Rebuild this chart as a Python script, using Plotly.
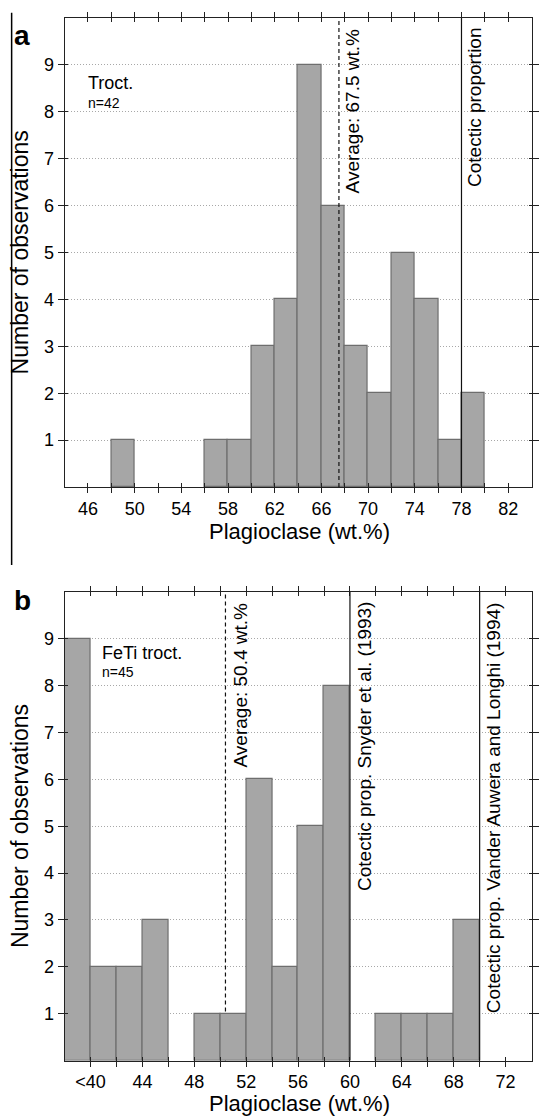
import plotly.graph_objects as go

# ---------------- data ----------------
# Panel a : Troctolites
bin_start_a = [48, 56, 58, 60, 62, 64, 66, 68, 70, 72, 74, 76, 78]
counts_a = [1, 1, 1, 3, 4, 9, 6, 3, 2, 5, 4, 1, 2]
avg_a = 67.5
cotectic_a = 78
xticks_a = list(range(46, 83, 2))
xlabels_a = [str(v) if (v - 46) % 4 == 0 else "" for v in xticks_a]

# Panel b : FeTi troctolites
bin_start_b = [38, 40, 42, 44, 48, 50, 52, 54, 56, 58, 62, 64, 66, 68]
counts_b = [9, 2, 2, 3, 1, 1, 6, 2, 5, 8, 1, 1, 1, 3]
avg_b = 50.4
cotectic_snyder = 60
cotectic_vander = 70
xticks_b = list(range(40, 73, 2))
xlabels_b = [("<40" if v == 40 else str(v)) if (v - 40) % 4 == 0 else "" for v in xticks_b]

bin_width = 2
yticks = list(range(1, 10))

# ---------------- style ----------------
W, H = 539, 1117
FONT = "Liberation Sans, Arial, Helvetica, sans-serif"
BAR = "#a6a6a6"
EDGE = "#6e6e6e"
AX = "#222222"
GRID = "#a8a8a8"

def px_x(p):
    return p / W

def px_y(p):
    return 1 - p / H

XDOM = [px_x(65), px_x(534.5)]
YDOM_A = [px_y(487), px_y(18)]
YDOM_B = [px_y(1060.5), px_y(592)]

fig = go.Figure()

fig.add_trace(go.Bar(
    x=[s + bin_width / 2 for s in bin_start_a], y=counts_a, width=bin_width,
    marker=dict(color=BAR, line=dict(color=EDGE, width=1.2)),
    xaxis="x", yaxis="y", showlegend=False, hoverinfo="skip"))
fig.add_trace(go.Bar(
    x=[s + bin_width / 2 for s in bin_start_b], y=counts_b, width=bin_width,
    marker=dict(color=BAR, line=dict(color=EDGE, width=1.2)),
    xaxis="x2", yaxis="y2", showlegend=False, hoverinfo="skip"))
# empty traces so the overlay axes (inner halves of crossing ticks) get drawn
fig.add_trace(go.Scatter(x=[], y=[], xaxis="x3", yaxis="y3", showlegend=False))
fig.add_trace(go.Scatter(x=[], y=[], xaxis="x4", yaxis="y4", showlegend=False))

def xaxis_main(rng, tv, tt, anchor):
    return dict(domain=XDOM, range=rng, anchor=anchor, tickmode="array",
                tickvals=tv, ticktext=tt, ticks="outside", ticklen=5,
                tickwidth=1, tickcolor=AX, showline=True, linecolor=AX,
                linewidth=1, mirror="ticks", showgrid=False, zeroline=False,
                tickfont=dict(family=FONT, size=18, color="black"), fixedrange=True)

def xaxis_over(rng, tv, over, anchor):
    return dict(overlaying=over, anchor=anchor, range=rng, tickmode="array",
                tickvals=tv, ticks="inside", ticklen=4, tickwidth=1, tickcolor=AX,
                showline=True, linecolor=AX, linewidth=1, mirror="ticks",
                showticklabels=False, showgrid=False, zeroline=False, fixedrange=True)

def yaxis_main(dom, anchor):
    return dict(domain=dom, range=[0, 10], anchor=anchor, tickmode="array",
                tickvals=yticks, ticks="outside", ticklen=6, tickwidth=1,
                tickcolor=AX, showline=True, linecolor=AX, linewidth=1,
                mirror="ticks", showgrid=True, gridcolor=GRID, griddash="1px,2px",
                gridwidth=1, zeroline=False,
                tickfont=dict(family=FONT, size=18, color="black"), fixedrange=True)

def yaxis_over(over, anchor):
    return dict(overlaying=over, anchor=anchor, range=[0, 10], tickmode="array",
                tickvals=yticks, ticks="inside", ticklen=3, tickwidth=1,
                tickcolor=AX, showline=True, linecolor=AX, linewidth=1,
                mirror="ticks", showticklabels=False, showgrid=False,
                zeroline=False, fixedrange=True)

fig.update_layout(
    width=W, height=H, autosize=False,
    margin=dict(l=0, r=0, t=0, b=0),
    paper_bgcolor="white", plot_bgcolor="white",
    font=dict(family=FONT, color="black"),
    bargap=0,
    xaxis=xaxis_main([44, 84], xticks_a, xlabels_a, "y"),
    yaxis=yaxis_main(YDOM_A, "x"),
    xaxis2=xaxis_main([38, 74], xticks_b, xlabels_b, "y2"),
    yaxis2=yaxis_main(YDOM_B, "x2"),
    xaxis3=xaxis_over([44, 84], xticks_a, "x", "y"),
    yaxis3=yaxis_over("y", "x"),
    xaxis4=xaxis_over([38, 74], xticks_b, "x2", "y2"),
    yaxis4=yaxis_over("y2", "x2"),
)

DASH = dict(color="#111111", width=1.2, dash="4px,3px")
SOLID = dict(color="#111111", width=1.2)
shapes = [
    dict(type="line", xref="x", yref="y domain", x0=avg_a, x1=avg_a, y0=0, y1=1,
         line=DASH, layer="above"),
    dict(type="line", xref="x", yref="y domain", x0=cotectic_a, x1=cotectic_a, y0=0, y1=1,
         line=SOLID, layer="above"),
    dict(type="line", xref="x2", yref="y2 domain", x0=avg_b, x1=avg_b, y0=0, y1=1,
         line=DASH, layer="below"),
    dict(type="line", xref="x2", yref="y2 domain", x0=cotectic_snyder, x1=cotectic_snyder,
         y0=0, y1=1, line=SOLID, layer="above"),
    dict(type="line", xref="x2", yref="y2 domain", x0=cotectic_vander, x1=cotectic_vander,
         y0=0, y1=1, line=SOLID, layer="above"),
    # thin page border line at the left of the upper panel
    dict(type="line", xref="paper", yref="paper", x0=px_x(11.7), x1=px_x(11.7),
         y0=px_y(12.7), y1=px_y(565), line=dict(color="black", width=1.5)),
]
fig.update_layout(shapes=shapes)

ann = []
def txt(text, x, y, size, xref="paper", xanchor="left", yanchor="middle",
        angle=0, bold=False, xshift=0):
    ann.append(dict(text=("<b>%s</b>" % text) if bold else text, x=x, y=y,
                    xref=xref, yref="paper", xanchor=xanchor, yanchor=yanchor,
                    textangle=angle, showarrow=False, xshift=xshift,
                    font=dict(family=FONT, size=size, color="black")))

# panel letters
txt("a", px_x(12), px_y(35.3), 28, bold=True)
txt("b", px_x(12.5), px_y(600.3), 28, bold=True)
# sample labels
txt("Troct.", px_x(86), px_y(82.5), 18)
txt("n=42", px_x(86), px_y(102.5), 14)
txt("FeTi troct.", px_x(101), px_y(652.8), 18)
txt("n=45", px_x(101), px_y(672.4), 14)
# axis titles
for yc, xc in [(252.5, 531.5), (826.2, 1103.2)]:
    txt("Number of observations", px_x(20), px_y(yc), 23, xanchor="center", angle=-90)
    txt("Plagioclase (wt.%)", px_x(301), px_y(xc), 22, xanchor="center")
# vertical line labels
txt("Average: %.1f wt.%%" % avg_a, avg_a, px_y(26), 19, xref="x", yanchor="top",
    angle=-90, xshift=1.5)
txt("Cotectic proportion", cotectic_a, px_y(26), 19, xref="x", yanchor="top",
    angle=-90, xshift=0.5)
txt("Average: %.1f wt.%%" % avg_b, avg_b, px_y(600), 19, xref="x2", yanchor="top",
    angle=-90, xshift=3)
txt("Cotectic prop. Snyder et al. (1993)", cotectic_snyder, px_y(600), 19, xref="x2",
    yanchor="top", angle=-90, xshift=2)
txt("Cotectic prop. Vander Auwera and Longhi (1994)", cotectic_vander, px_y(600), 19,
    xref="x2", yanchor="top", angle=-90, xshift=1.5)
fig.update_layout(annotations=ann)

fig.write_html("out.html", config={"displayModeBar": False},
               post_script="document.body.style.margin='0px';")
